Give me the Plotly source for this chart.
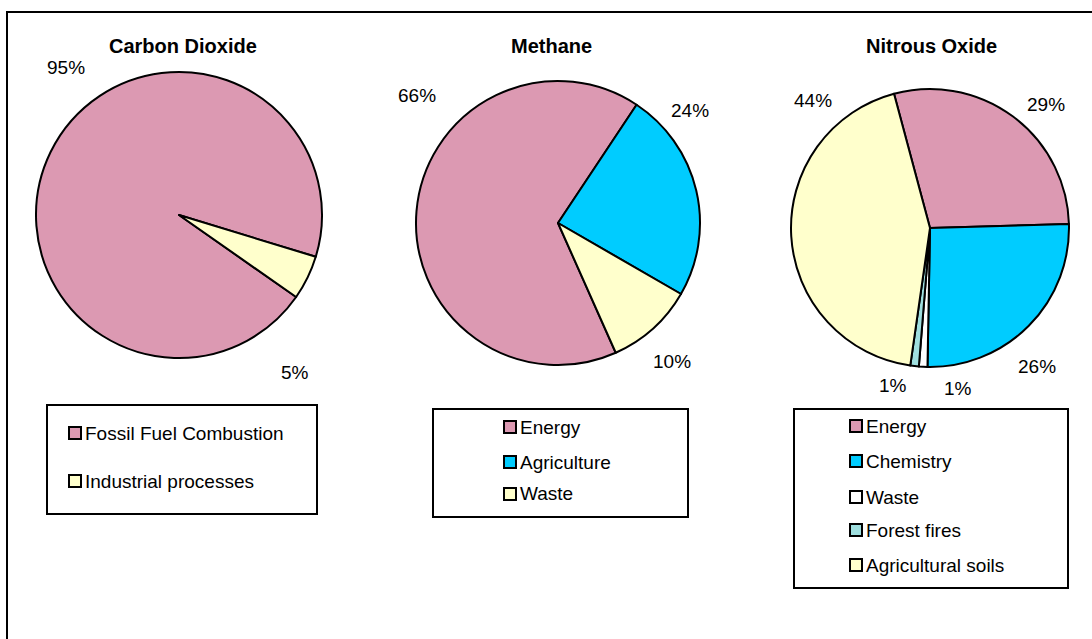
import plotly.graph_objects as go

W, H = 1092, 639

# ---- data ----
co2_labels = ["Fossil Fuel Combustion", "Industrial processes"]
co2_values = [95, 5]

ch4_labels = ["Energy", "Agriculture", "Waste"]
ch4_values = [66, 24, 10]

n2o_labels = ["Energy", "Chemistry", "Waste", "Forest fires", "Agricultural soils"]
n2o_values = [29, 26, 1, 1, 44]

titles = ["Carbon Dioxide", "Methane", "Nitrous Oxide"]

# ---- styles ----
PINK, CYAN, YELLOW, WHITE, TEAL = "#DC99B2", "#00CCFF", "#FFFFCC", "#FFFFFF", "#9FDFDF"
co2_colors = [PINK, YELLOW]
ch4_colors = [PINK, CYAN, YELLOW]
n2o_colors = [PINK, CYAN, WHITE, TEAL, YELLOW]

FONT = "Liberation Sans, Arial, sans-serif"


def px(x):
    return x / W


def py(y):
    return 1 - y / H


def domain(cx, cy, r):
    return dict(x=[px(cx - r), px(cx + r)], y=[py(cy + r), py(cy - r)])


# pie geometry: centre, radius, start angle (clockwise from 12 o'clock)
pies = [
    dict(labels=co2_labels, values=co2_values, colors=co2_colors,
         cx=179, cy=215, r=143, rot=125, title_x=183),
    dict(labels=ch4_labels, values=ch4_values, colors=ch4_colors,
         cx=558, cy=223, r=142, rot=156, title_x=551),
    dict(labels=n2o_labels, values=n2o_values, colors=n2o_colors,
         cx=930, cy=228, r=139, rot=-15, title_x=931),
]

# percentage label anchors (pixel coordinates), one per slice
label_pos = [
    [(66, 68), (295, 372)],
    [(417, 95), (690, 110), (672, 361)],
    [(1046, 104), (1037, 366), (958, 388), (893, 386), (813, 100)],
]

# legend boxes: (left, top, right, bottom), marker centre x, entry y positions
legends = [
    dict(box=(47, 405, 317, 514), mx=75, ys=[433, 481]),
    dict(box=(433, 409, 688, 517), mx=510, ys=[427, 462, 494]),
    dict(box=(794, 409, 1068, 588), mx=856, ys=[426, 461, 497, 530, 565]),
]

fig = go.Figure()
annotations = []
shapes = []

# outer frame
shapes.append(dict(type="rect", xref="paper", yref="paper",
                   x0=px(7), x1=px(1100), y0=py(650), y1=py(12),
                   line=dict(color="black", width=2), fillcolor="rgba(0,0,0,0)"))

for p, pos, lg, title in zip(pies, label_pos, legends, titles):
    fig.add_trace(go.Pie(
        labels=p["labels"], values=p["values"], sort=False,
        direction="clockwise", rotation=p["rot"],
        marker=dict(colors=p["colors"], line=dict(color="black", width=2)),
        textinfo="none", hoverinfo="label+percent",
        domain=domain(p["cx"], p["cy"], p["r"]), showlegend=False,
    ))
    annotations.append(dict(
        x=px(p["title_x"]), y=py(46), xref="paper", yref="paper",
        text=f"<b>{title}</b>", showarrow=False, xanchor="center", yanchor="middle",
        font=dict(family=FONT, size=20, color="black"),
    ))
    for v, (lx, ly) in zip(p["values"], pos):
        annotations.append(dict(
            x=px(lx), y=py(ly), xref="paper", yref="paper",
            text=f"{v}%", showarrow=False, xanchor="center", yanchor="middle",
            font=dict(family=FONT, size=19, color="black"),
        ))
    # legend frame
    l, t, r, b = lg["box"]
    shapes.append(dict(type="rect", xref="paper", yref="paper",
                       x0=px(l), x1=px(r), y0=py(b), y1=py(t),
                       line=dict(color="black", width=2), fillcolor="white"))
    s = 6
    for name, col, y in zip(p["labels"], p["colors"], lg["ys"]):
        shapes.append(dict(type="rect", xref="paper", yref="paper",
                           x0=px(lg["mx"] - s), x1=px(lg["mx"] + s),
                           y0=py(y + s), y1=py(y - s),
                           line=dict(color="black", width=2), fillcolor=col))
        annotations.append(dict(
            x=px(lg["mx"] + s + 2), y=py(y), xref="paper", yref="paper",
            text=name, showarrow=False, xanchor="left", yanchor="middle",
            font=dict(family=FONT, size=19, color="black"),
        ))

fig.update_layout(
    width=W, height=H,
    margin=dict(l=0, r=0, t=0, b=0),
    paper_bgcolor="white", plot_bgcolor="white",
    shapes=shapes, annotations=annotations,
    showlegend=False,
)

fig.write_html("out.html")
